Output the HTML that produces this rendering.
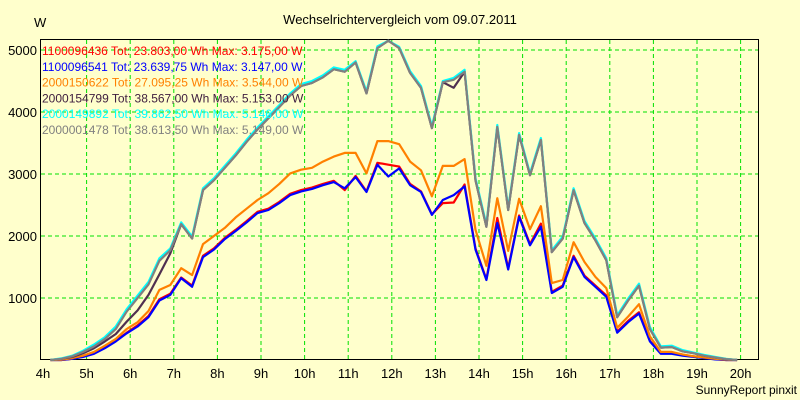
<!DOCTYPE html>
<html><head><meta charset="utf-8"><style>
html,body{margin:0;padding:0;background:#ffffcc;}
svg{display:block;font-family:"Liberation Sans",sans-serif;}
</style></head><body>
<svg id="chart" width="800" height="400" viewBox="0 0 800 400">
<rect x="0" y="0" width="800" height="400" fill="#ffffcc"/>
<text x="400" y="24" text-anchor="middle" font-size="13" fill="#000">Wechselrichtervergleich vom 09.07.2011</text>
<text x="34" y="27" font-size="13" fill="#000">W</text>
<text x="797" y="394" text-anchor="end" font-size="12" fill="#000">SunnyReport pinxit</text>
<g id="grid"></g>
<g id="axes"></g>
<g id="series"></g>
<g id="legend"></g>
</svg>
<script>
const xTicks=[4,5,6,7,8,9,10,11,12,13,14,15,16,17,18,19,20];
const yTicks=[1000,2000,3000,4000,5000];
const startHour=4.17, stepHour=0.25;
const redVals=[0,0,20,60,110,200,310,440,560,710,980,1070,1330,1200,1680,1800,1970,2100,2240,2390,2440,2550,2680,2740,2780,2840,2890,2740,2970,2720,3180,3150,3120,2840,2720,2350,2530,2540,2830,1800,1300,2290,1480,2330,1870,2200,1100,1200,1680,1360,1200,1040,460,630,770,310,110,110,80,60,40,15,0,0];
const blueVals=[0,0,20,50,100,190,300,430,540,690,960,1050,1320,1180,1660,1780,1950,2080,2220,2370,2420,2530,2660,2720,2760,2820,2870,2770,2950,2710,3150,2960,3090,2820,2710,2340,2580,2660,2800,1780,1290,2210,1460,2310,1850,2150,1080,1180,1660,1340,1180,1020,440,610,750,300,100,100,70,50,30,10,0,0];
const orangeVals=[0,5,30,70,130,230,340,500,610,790,1130,1210,1480,1370,1870,2000,2130,2300,2440,2580,2690,2840,3010,3070,3100,3200,3280,3340,3340,3010,3530,3530,3480,3200,3060,2640,3130,3130,3240,2100,1520,2610,1760,2600,2110,2480,1240,1290,1900,1580,1340,1160,520,700,900,380,130,130,90,60,40,20,5,0];
const darkVals=[0,20,50,110,190,300,420,620,800,1050,1380,1720,2190,1960,2740,2900,3100,3300,3520,3720,3900,4080,4270,4420,4470,4560,4690,4650,4800,4300,5030,5153,5030,4630,4390,3740,4480,4390,4650,2900,2150,3760,2420,3630,2980,3550,1740,1960,2740,2210,1930,1610,690,960,1200,500,200,210,140,110,70,40,15,0];
const cyanVals=[0,25,70,150,250,370,540,820,1040,1260,1640,1800,2220,1990,2770,2930,3130,3330,3550,3750,3930,4110,4300,4450,4500,4590,4720,4680,4820,4330,5060,5146,5050,4660,4420,3770,4500,4550,4680,2930,2180,3790,2450,3660,3010,3580,1770,1990,2770,2240,1960,1640,720,990,1230,530,220,230,160,120,80,50,20,0];
const grayVals=[0,20,60,130,220,340,500,780,1000,1220,1600,1770,2190,1960,2740,2900,3100,3300,3520,3720,3900,4080,4270,4420,4470,4560,4690,4650,4800,4300,5030,5149,5030,4630,4390,3740,4480,4520,4650,2900,2150,3760,2420,3630,2980,3550,1740,1960,2740,2210,1930,1610,690,960,1200,500,200,210,140,110,70,40,15,0];
const seriesNames=["1100096436","1100096541","2000150622","2000154799","2000149892","2000001478"];
const legendLabels=["1100096436 Tot: 23.803,00 Wh Max: 3.175,00 W","1100096541 Tot: 23.639,75 Wh Max: 3.147,00 W","2000150622 Tot: 27.095,25 Wh Max: 3.544,00 W","2000154799 Tot: 38.567,00 Wh Max: 5.153,00 W","2000149892 Tot: 39.862,50 Wh Max: 5.146,00 W","2000001478 Tot: 38.613,50 Wh Max: 5.149,00 W"];

const NS="http://www.w3.org/2000/svg";
const L=41,R=759,T=40,B=360;
function xs(h){return 43+(h-4)*43.6;}
function ys(v){return 360-v*0.062;}
function mk(tag,attrs,parent){const e=document.createElementNS(NS,tag);for(const k in attrs)e.setAttribute(k,attrs[k]);parent.appendChild(e);return e;}
const grid=document.getElementById('grid'),axes=document.getElementById('axes'),ser=document.getElementById('series'),leg=document.getElementById('legend');
xTicks.forEach(h=>{
  const x=xs(h);
  if(h>4&&h<20.5){const l=mk('line',{x1:x,y1:T,x2:x,y2:B,stroke:'#00e000','stroke-width':1,'stroke-dasharray':'4,3'},grid);
  
  }
  const t=mk('text',{x:x,y:378,'text-anchor':'middle','font-size':13,fill:'#000'},axes);
  t.textContent=h+'h';
  
  
});
yTicks.forEach(v=>{
  const y=ys(v);
  const l=mk('line',{x1:L,y1:y,x2:R,y2:y,stroke:'#00e000','stroke-width':1,'stroke-dasharray':'4,3'},grid);
  
  
  const t=mk('text',{x:37,y:y+5,'text-anchor':'end','font-size':13,fill:'#000'},axes);
  t.textContent=v;
  
  
});
const frame=mk('rect',{x:L-0.5,y:T-0.5,width:R-L,height:B-T,fill:'none',stroke:'#000','stroke-width':1},axes);



const allSeries=[redVals,blueVals,orangeVals,darkVals,cyanVals,grayVals];
const colors=['#ff0000','#0000ff','#ff8000','#503050','#00ffff','#808080'];
const legColors=['#ff0000','#0000ff','#ff8000','#402040','#00ffff','#808080'];
allSeries.forEach((vals,i)=>{
  const pts=vals.map((v,k)=>xs(startHour+k*stepHour).toFixed(1)+','+ys(v).toFixed(1)).join(' ');
  const p=mk('polyline',{points:pts,fill:'none',stroke:colors[i],'stroke-width':2.2,'stroke-linejoin':'round'},ser);
  
  
});
legendLabels.forEach((s,i)=>{
  const t=mk('text',{x:42,y:55+i*15.8,'font-size':12,fill:legColors[i]},leg);
  t.textContent=s;
  
  
});
</script>
</body></html>
